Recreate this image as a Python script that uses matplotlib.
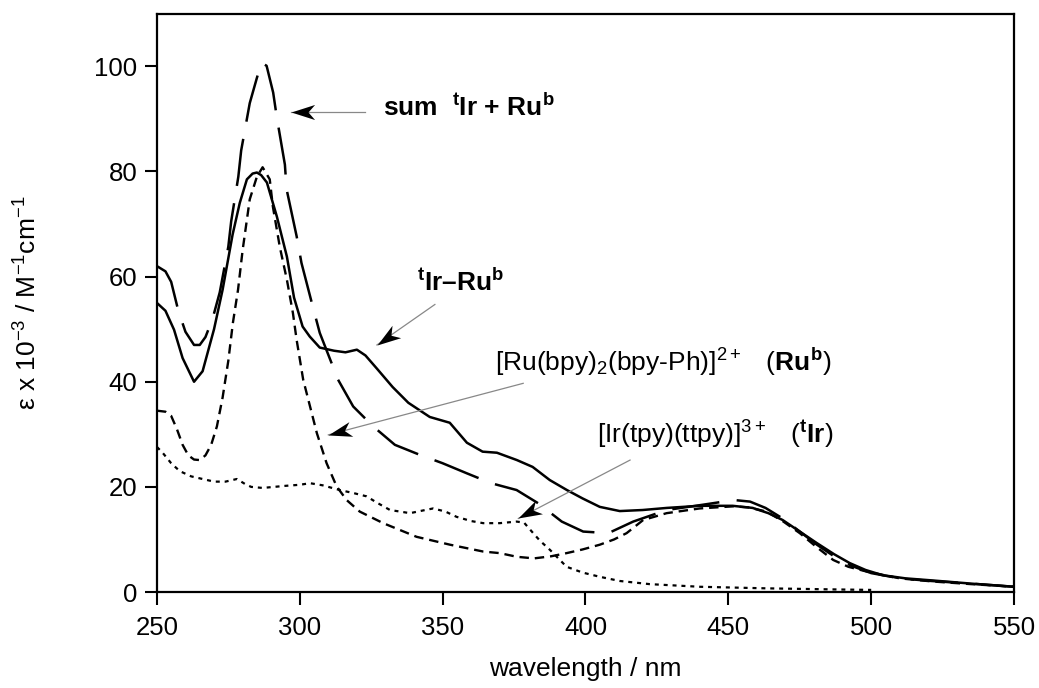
import math
import matplotlib
matplotlib.use("Agg")
import matplotlib.pyplot as plt
from matplotlib.path import Path
from matplotlib.markers import MarkerStyle
from matplotlib.transforms import Affine2D

plt.rcParams['font.family'] = ['Liberation Sans', 'DejaVu Sans']
plt.rcParams['mathtext.fontset'] = 'custom'
plt.rcParams['mathtext.rm'] = 'Liberation Sans'
plt.rcParams['mathtext.it'] = 'Liberation Sans'
plt.rcParams['mathtext.bf'] = 'Liberation Sans:bold'

# tIr-Rub dyad (solid)
dyad_x = [250, 253, 256, 259, 263, 266, 270, 273, 276.5, 279, 281.5, 283.5, 285, 286.5, 288.5,
          292, 295.5, 298, 301, 303.5, 307, 312, 316, 320, 323, 327, 332.5, 338, 345.5, 352.5,
          358.5, 364, 369, 376, 381.5, 387.5, 393.5, 399, 405, 412, 420, 428.5, 440, 451.5,
          458.5, 464, 469, 475, 481, 487, 492.5, 498, 504, 512, 521.5, 535, 550]
dyad_y = [55, 53.5, 49.9, 44.5, 40, 42, 50, 57.5, 68, 74, 78.5, 79.6, 79.8, 79.3, 77.9,
          71.4, 63.8, 56, 50.5, 48.6, 46.5, 45.9, 45.6, 46.1, 45, 42.5, 39, 36, 33.3, 32.2,
          28.4, 26.7, 26.5, 25.1, 23.8, 21.3, 19.4, 17.8, 16.2, 15.4, 15.6, 16, 16.4, 16.4,
          16, 15, 13.7, 11.5, 9.3, 7.2, 5.5, 4.2, 3.2, 2.6, 2.2, 1.6, 1.0]

# sum tIr + Rub (long dashes)
sum_x = [250, 253, 255, 257.5, 260, 263, 265, 267, 269.5, 272, 275, 276, 278.5, 279.5, 282.5,
         285, 286.6, 288.4, 290.7, 292, 294.8, 295.4, 298.9, 300.6, 304.7, 307, 313.4, 318.7,
         325.7, 333.3, 342, 350, 358.4, 367, 375.9, 383.4, 391.7, 399.2, 408, 416.7, 428.4,
         441, 452, 457.6, 463, 469, 475, 481, 487, 493, 500, 510, 521, 535, 550]
sum_y = [62, 61, 59, 53.5, 49.5, 47, 47, 48.5, 52, 57, 65.7, 70.5, 79, 84, 93,
         97.8, 100.7, 100.1, 95, 90.2, 81.3, 76.6, 67.7, 62.6, 54, 49.3, 40.4, 35.3,
         31.5, 28, 26.1, 24.5, 22.6, 20.7, 19.4, 16.9, 13.4, 11.5, 11.2, 13.4, 15.6,
         16.6, 17.5, 17.2, 16, 14, 11.5, 9, 6.8, 5, 3.6, 2.6, 2.1, 1.6, 1.0]

# [Ru(bpy)2(bpy-Ph)]2+ (short dashes)
ru_x = [250, 253, 255, 257, 259, 261, 263, 265, 267, 269, 271, 273, 275, 276.6, 278.4, 280,
        282.5, 285, 287, 289.5, 290.6, 293, 295.5, 297.6, 298.9, 301.2, 303.6, 306, 309.4,
        312.9, 316.4, 321, 329.2, 340.9, 352.6, 364.2, 370, 376, 382, 388, 393.4, 399, 405,
        410, 414.4, 420.2, 428.4, 440, 451.7, 457, 463.4, 469, 475, 481, 486.7, 492, 498.4,
        510, 521.6, 535, 550]
ru_y = [34.5, 34.3, 33.5, 31, 28, 26, 25.2, 25.1, 26, 28, 31.5, 37, 44, 51.2, 57.5, 65,
        74.7, 79, 80.8, 78.5, 73.3, 65.7, 59.4, 53.1, 48, 40.4, 35.3, 30.2, 24.5,
        20.1, 17.5, 15.3, 13.1, 10.5, 9, 7.7, 7.4, 6.7, 6.4, 6.8, 7.4, 8.1, 9,
        10, 11.2, 13.7, 15, 15.9, 16.3, 16.1, 15.3, 13.5, 11.2, 8.5, 6.1, 4.8, 3.9,
        2.6, 2.0, 1.5, 1.0]

# [Ir(tpy)(ttpy)]3+ (dotted)
ir_x = [250, 252, 255, 258, 262, 266, 270, 274, 278, 281, 283, 287, 291, 295, 300, 303.6,
        308, 314, 319, 323.4, 327, 331.6, 338.6, 343, 346.7, 351, 354.9, 360, 364.2, 370,
        375.9, 378.5, 381.7, 384, 387.6, 393.4, 399, 405, 412, 422.5, 440, 463.4, 486.7, 500]
ir_y = [27.6, 26.5, 24.5, 23, 22, 21.5, 21, 21, 21.5, 20.5, 20, 19.8, 20, 20.2, 20.4, 20.7,
        20.3, 19.4, 18.8, 18.2, 17, 15.6, 15, 15.5, 15.9, 15.3, 14.3, 13.5, 13.1, 13.1,
        13.4, 13.2, 11.2, 9.8, 8, 4.8, 3.7, 2.9, 2.1, 1.5, 1.0, 0.7, 0.5, 0.4]

x_ticks = [250, 300, 350, 400, 450, 500, 550]
y_ticks = [0, 20, 40, 60, 80, 100]

fig = plt.figure(figsize=(10.39, 6.88), dpi=100)
ax = fig.add_axes([0.151, 0.1395, 0.825, 0.8405])

ax.plot(dyad_x, dyad_y, color='black', lw=1.8, ls='-')
ax.plot(sum_x, sum_y, color='black', lw=1.8, ls=(0, (19, 7)))
ax.plot(ru_x, ru_y, color='black', lw=1.7, ls=(0, (4, 2.5)))
ax.plot(ir_x, ir_y, color='black', lw=1.6, ls=(0, (1.8, 2.2)))

ax.set_xlim(250, 550)
ax.set_ylim(0, 110)
ax.set_xticks(x_ticks)
ax.set_yticks(y_ticks)
ax.tick_params(direction='out', length=9, width=1.5, labelsize=18.5)
ax.tick_params(axis='x', pad=8)
ax.tick_params(axis='y', pad=5)
for s in ax.spines.values():
    s.set_linewidth(1.6)

ax.set_xlabel('wavelength / nm', fontsize=19)
ax.xaxis.set_label_coords(0.5, -0.112)
ax.set_ylabel(r'ε x 10$^{-3}$ / M$^{-1}$cm$^{-1}$', fontsize=19)
ax.yaxis.set_label_coords(-0.134, 0.5)

# notched arrow head, tip at the origin, pointing along +x
head_path = Path([(0, 0), (-1, 0.32), (-0.72, 0), (-1, -0.32), (0, 0)],
                 [Path.MOVETO, Path.LINETO, Path.LINETO, Path.LINETO, Path.CLOSEPOLY])


def arrow(tip, tail):
    ax.plot([tail[0], tip[0]], [tail[1], tip[1]], color='#888888', lw=0.9)
    p0 = ax.transData.transform(tail)
    p1 = ax.transData.transform(tip)
    ang = math.degrees(math.atan2(p1[1] - p0[1], p1[0] - p0[0]))
    m = MarkerStyle(head_path, transform=Affine2D().rotate_deg(ang))
    ax.plot([tip[0]], [tip[1]], marker=m, ms=34, color='black', mew=0, ls='none')


arrow((297.1, 91.4), (322.8, 91.4))
ax.text(329.1, 90.5, r'sum  $^{\mathbf{t}}$Ir + Ru$^{\mathbf{b}}$', fontsize=19,
        fontweight='bold', va='baseline')

arrow((327, 47), (347.3, 54.7))
ax.text(340.9, 57.2, r'$^{\mathbf{t}}$Ir–Ru$^{\mathbf{b}}$', fontsize=19,
        fontweight='bold', va='baseline')

arrow((310, 29.9), (378.2, 39.7))
ax.text(368.3, 42, r'[Ru(bpy)$_2$(bpy-Ph)]$^{2+}$   ($\mathbf{Ru^{b}}$)', fontsize=19,
        va='baseline')

arrow((376.5, 14), (415.6, 25.1))
ax.text(403.9, 28.3, r'[Ir(tpy)(ttpy)]$^{3+}$   ($\mathbf{^{t}Ir}$)', fontsize=19,
        va='baseline')

fig.savefig('out.png', dpi=100)
